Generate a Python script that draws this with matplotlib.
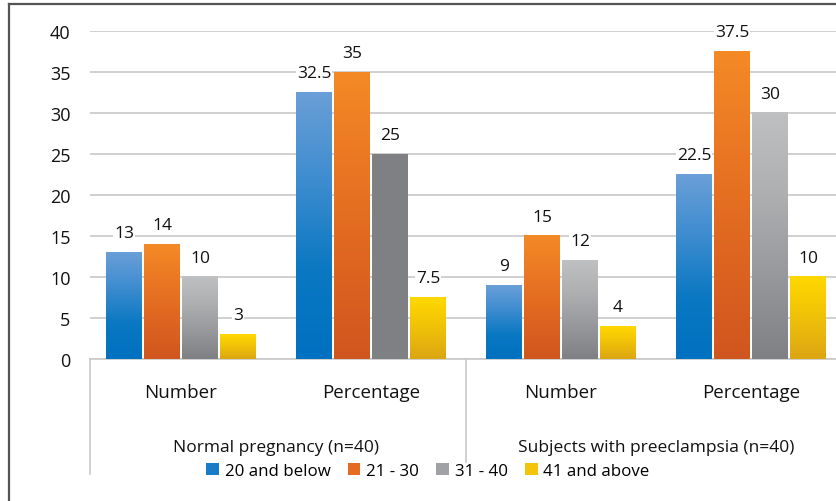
import matplotlib
matplotlib.use("Agg")
import matplotlib.pyplot as plt
import numpy as np
from matplotlib.colors import LinearSegmentedColormap
from matplotlib.patches import Patch
from matplotlib.lines import Line2D

plt.rcParams['font.family'] = ['Open Sans', 'DejaVu Sans']

# ---- data ----
categories = ["Number", "Percentage", "Number", "Percentage"]
groups = ["Normal pregnancy (n=40)", "Subjects with preeclampsia (n=40)"]
series_names = ["20 and below", "21 - 30", "31 - 40", "41 and above"]
s_20_below = [13, 32.5, 9, 22.5]
s_21_30 = [14, 35, 15, 37.5]
s_31_40 = [10, 25, 12, 30]
s_41_above = [3, 7.5, 4, 10]
series_values = [s_20_below, s_21_30, s_31_40, s_41_above]
value_labels = [["13", "32.5", "9", "22.5"],
                ["14", "35", "15", "37.5"],
                ["10", "25", "12", "30"],
                ["3", "7.5", "4", "10"]]
yticks = [0, 5, 10, 15, 20, 25, 30, 35, 40]

# gradient stops (bottom -> top)
grad_stops = [
    ["#0070c0", "#0a78c2", "#3d8ccf", "#6a9fd8"],
    ["#d0561f", "#dd6520", "#ea7623", "#f48a26"],
    ["#7f8084", "#97989b", "#aeafb1", "#bfc0c2"],
    ["#dca513", "#e9b80c", "#f5c905", "#ffd800"],
]
solid_bars = {(2, 1): "#7f8084"}  # (series, category) drawn flat in the source
legend_colors = ["#1a7cc6", "#e56b22", "#a0a1a4", "#f3c40a"]

W, H = 836, 502
fig = plt.figure(figsize=(W / 100, H / 100), dpi=100)

ax_left, ax_right = 90, 836
ax_bottom, ax_top = 360, 32
axh = ax_bottom - ax_top
ax = fig.add_axes([ax_left / W, 1 - ax_bottom / H, (ax_right - ax_left) / W, axh / H])

x = np.arange(len(categories))
width = 0.185
offsets = [-0.3, -0.1, 0.1, 0.3]

grad = np.linspace(0, 1, 256).reshape(-1, 1)
for si, (vals, stops) in enumerate(zip(series_values, grad_stops)):
    cmap = LinearSegmentedColormap.from_list(f"g{si}", stops)
    for ci, (xi, v) in enumerate(zip(x, vals)):
        x0 = xi + offsets[si] - width / 2
        x1 = x0 + width
        if (si, ci) in solid_bars:
            ax.bar(xi + offsets[si], v, width=width, color=solid_bars[(si, ci)], zorder=3)
        else:
            ax.imshow(grad, cmap=cmap, origin="lower", extent=[x0, x1, 0, v],
                      aspect="auto", zorder=3, interpolation="bilinear")
        ax.text(xi + offsets[si], v + 1.4, value_labels[si][ci],
                ha="center", va="bottom", fontsize=12.5, color="#111111", zorder=4,
                bbox=dict(facecolor="white", edgecolor="none", pad=0.5))

xmin = (ax_left - 181) / 190
xmax = (ax_right - 181) / 190
ax.set_xlim(xmin, xmax)
ax.set_ylim(0, 40)
ax.set_yticks(yticks)
ax.set_yticklabels([str(t) for t in yticks], fontsize=13, color="#111111")
ax.tick_params(axis="y", length=0, pad=14)
ax.set_xticks([])
ax.yaxis.grid(True, color="#c8c8c8", linewidth=1.2, zorder=0)
ax.set_axisbelow(True)
for sp in ["top", "right", "left"]:
    ax.spines[sp].set_visible(False)
ax.spines["bottom"].set_color("#c8c8c8")
ax.spines["bottom"].set_linewidth(1.2)

# multi-level category labels
trans = ax.get_xaxis_transform()
for xi, c in zip(x, categories):
    ax.text(xi, -33 / axh, c, transform=trans, ha="center", va="center",
            fontsize=13.5, color="#111111")
for gi, g in enumerate(groups):
    ax.text(gi * 2 + 0.5, -88 / axh, g, transform=trans, ha="center", va="center",
            fontsize=12.5, color="#111111")
# category divider lines
ax.plot([xmin, xmin], [0, -115 / axh], transform=trans, color="#c8c8c8", lw=1.2, clip_on=False)
ax.plot([1.5, 1.5], [0, -103 / axh], transform=trans, color="#c8c8c8", lw=1.2, clip_on=False)

# legend
handles = [Patch(facecolor=c, edgecolor="none") for c in legend_colors]
fig.legend(handles, series_names, loc="center", bbox_to_anchor=(428 / W, 1 - 472 / H),
           ncol=4, frameon=False, fontsize=12.2, handlelength=0.75, handleheight=0.75,
           handletextpad=0.35, columnspacing=1.0, borderpad=0)

# outer frame (left and top)
fig.add_artist(Line2D([9 / W, 9 / W], [0, 1 - 5 / H], color="#555555", lw=1.6))
fig.add_artist(Line2D([9 / W, 1], [1 - 5 / H, 1 - 5 / H], color="#555555", lw=1.6))

fig.savefig("out.png", dpi=100)
